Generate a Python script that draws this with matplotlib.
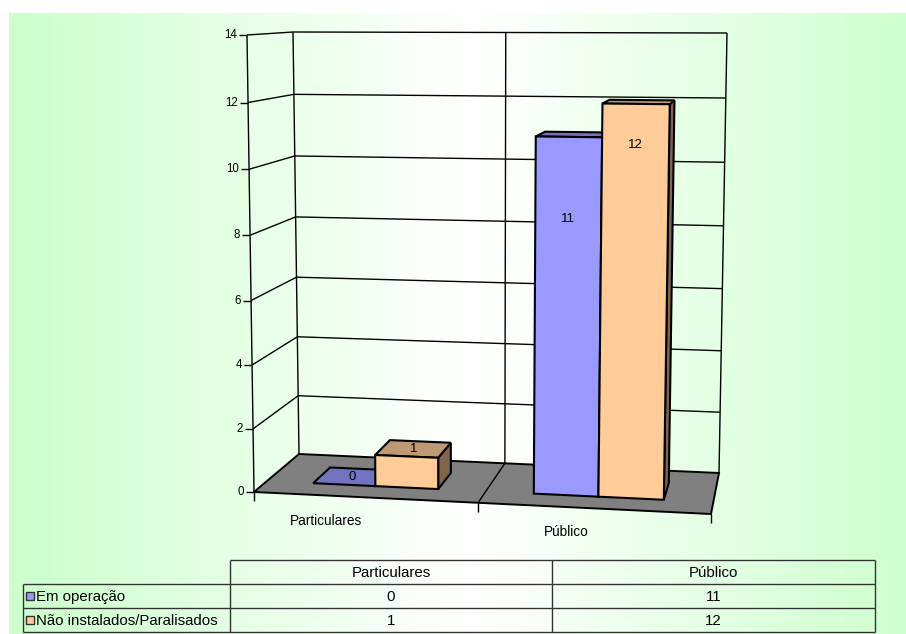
import numpy as np
import matplotlib
matplotlib.use("Agg")
import matplotlib.pyplot as plt
from matplotlib.patches import Polygon, Rectangle

# ---- data ----
categories = ["Particulares", "Público"]
series_names = ["Em operação", "Não instalados/Paralisados"]
em_operacao = [0, 11]
nao_instalados = [1, 12]
y_ticks = [0, 2, 4, 6, 8, 10, 12, 14]

series_values = [em_operacao, nao_instalados]
front_colors = ["#9999FF", "#FFCC99"]

FONT = "Liberation Sans"
W, H = 906, 634
VMAX = y_ticks[-1]
NCAT = len(categories)

fig = plt.figure(figsize=(W / 100, H / 100), dpi=100)
ax = fig.add_axes([0, 0, 1, 1])
ax.set_xlim(0, W)
ax.set_ylim(H, 0)
ax.axis("off")

# ---- background: horizontal green -> white -> green gradient ----
green = np.array([204, 255, 204]) / 255.0
xs = np.linspace(9, W, 400)
f = np.abs(xs - 470.0) / 455.0
f = np.clip(f, 0, 1)
grad = (1 - f)[:, None] * np.ones(3) + f[:, None] * green
ax.imshow(grad[None, :, :], extent=(9, W, H, 13), aspect="auto", zorder=0)
ax.set_xlim(0, W)
ax.set_ylim(H, 0)

# ---- 3D projection of the plot box: (category, value, depth) -> pixel ----
CORNERS = {
    (0, 0, 0): (254, 492), (0, 0, 1): (299, 454),
    (1, 0, 1): (719, 473), (1, 0, 0): (711, 514),
    (0, 1, 0): (247, 35), (0, 1, 1): (293, 32),
    (1, 1, 1): (727, 33), (1, 1, 0): (720, 37),
}


def warp(t, r=1.04):
    return t / (t + r * (1 - t))


def P(x, v, z):
    u = warp(x / NCAT)
    w = warp(v / VMAX)
    px = py = 0.0
    for (i, j, k), (cx, cy) in CORNERS.items():
        wt = (u if i else 1 - u) * (w if j else 1 - w) * (z if k else 1 - z)
        px += wt * cx
        py += wt * cy
    return (px, py)


def line(pts, lw=1.0, color="black", z=2):
    xs_, ys_ = zip(*pts)
    ax.plot(xs_, ys_, color=color, lw=lw, zorder=z, solid_capstyle="butt")


def face(pts, color, z, lw=1.5):
    ax.add_patch(Polygon(pts, closed=True, facecolor=color, edgecolor="black",
                         lw=lw, joinstyle="miter", zorder=z))


def shade(hexcol, k):
    c = np.array(matplotlib.colors.to_rgb(hexcol)) * k
    return tuple(c)


# walls: gridlines and vertical edges
for v in y_ticks[1:]:
    line([P(0, v, 0), P(0, v, 1), P(NCAT, v, 1)], lw=1.0, z=2)
for c in range(NCAT + 1):
    line([P(c, 0, 1), P(c, VMAX, 1)], lw=1.0, z=2)

# floor
floor = [P(0, 0, 0), P(0, 0, 1), P(NCAT, 0, 1), P(NCAT, 0, 0)]
face(floor, "#808080", 3, lw=1.4)
for c in range(1, NCAT):
    line([P(c, 0, 1), P(c, 0, 0)], lw=1.0, z=4)
for c in range(NCAT + 1):
    bx, by = P(c, 0, 0)
    line([(bx, by), (bx, by + 9)], lw=1.0, z=4)

# value axis
line([P(0, 0, 0), P(0, VMAX, 0)], lw=1.0, z=4)
for v in y_ticks:
    tx, ty = P(0, v, 0)
    line([(tx - 8, ty), (tx, ty)], lw=1.0, z=4)
    ax.text(tx - 10, ty, str(v), ha="right", va="center", fontsize=8.3,
            family=FONT, color="black", zorder=5)

# bars
GAP = 1.5  # gap width relative to bar width
bw = 1.0 / (len(series_values) + GAP)
Z0, Z1 = 0.29, 0.70
label_drop = {(1, 0): 2.45, (1, 1): 1.2}
zc = 10
for c in range(NCAT):
    for s, vals in enumerate(series_values):
        v = vals[c]
        x0 = c + GAP * bw / 2 + s * bw
        x1 = x0 + bw
        col = front_colors[s]
        top = [P(x0, v, Z0), P(x1, v, Z0), P(x1, v, Z1), P(x0, v, Z1)]
        if v > 0:
            side = [P(x1, 0, Z0), P(x1, 0, Z1), P(x1, v, Z1), P(x1, v, Z0)]
            front = [P(x0, 0, Z0), P(x1, 0, Z0), P(x1, v, Z0), P(x0, v, Z0)]
            face(side, shade(col, 0.5), zc)
            face(top, shade(col, 0.75), zc)
            face(front, col, zc + 1)
        else:
            face(top, shade(col, 0.75), zc)
        xm = (x0 + x1) / 2
        if (c, s) in label_drop:
            lx, ly = P(xm, v - label_drop[(c, s)], Z0)
        else:
            lx, ly = P(xm, v, (Z0 + Z1) / 2)
        ax.text(lx, ly, str(v), ha="center", va="center", fontsize=9.5,
                family=FONT, color="black", zorder=30)
        zc += 2

# category labels
cat_label_xy = [(326, 521), (566, 532)]
for name, (cx, cy) in zip(categories, cat_label_xy):
    ax.text(cx, cy, name, ha="center", va="center", fontsize=9.8,
            family=FONT, color="black", zorder=5)

# ---- data table ----
col_edges = [23, 230, 552, 875]
row_edges = [560, 584, 608, 632]
tc = "#333333"
tlw = 1.0
TFS = 10.8
# header row
line([(col_edges[1], row_edges[0]), (col_edges[3], row_edges[0])], lw=tlw, color=tc, z=5)
for xe in col_edges[1:]:
    line([(xe, row_edges[0]), (xe, row_edges[3])], lw=tlw, color=tc, z=5)
line([(col_edges[0], row_edges[1]), (col_edges[0], row_edges[3])], lw=tlw, color=tc, z=5)
for ye in row_edges[1:]:
    line([(col_edges[0], ye), (col_edges[3], ye)], lw=tlw, color=tc, z=5)

for j, name in enumerate(categories):
    ax.text((col_edges[j + 1] + col_edges[j + 2]) / 2, (row_edges[0] + row_edges[1]) / 2 + 1,
            name, ha="center", va="center", fontsize=TFS, family=FONT, zorder=6)

for i, (sname, vals) in enumerate(zip(series_names, series_values)):
    yc = (row_edges[i + 1] + row_edges[i + 2]) / 2
    ax.add_patch(Rectangle((col_edges[0] + 3, yc - 4), 8, 8, facecolor=front_colors[i],
                           edgecolor="#333333", lw=1.0, zorder=6))
    ax.text(col_edges[0] + 13, yc + 1, sname, ha="left", va="center", fontsize=TFS,
            family=FONT, zorder=6)
    for j in range(NCAT):
        ax.text((col_edges[j + 1] + col_edges[j + 2]) / 2, yc + 1, str(vals[j]),
                ha="center", va="center", fontsize=TFS, family=FONT, zorder=6)

fig.savefig("out.png", dpi=100)
